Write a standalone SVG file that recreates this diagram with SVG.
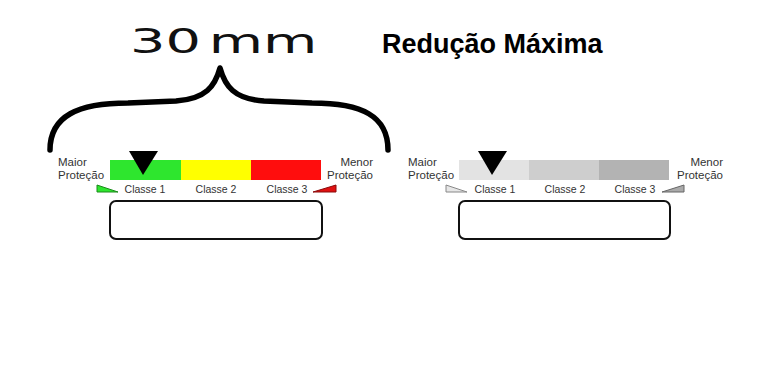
<svg xmlns="http://www.w3.org/2000/svg" width="780" height="386" viewBox="0 0 780 386">
<style>
.lbl{font-family:"Liberation Sans",Arial,sans-serif;font-size:11.5px;fill:#333}
.cls{font-family:"Liberation Sans",Arial,sans-serif;font-size:10.5px;fill:#333;text-anchor:middle}
.box{fill:#fff;stroke:#111;stroke-width:2}
.ptr{fill:#000}
</style>
<rect width="780" height="386" fill="#fff"/>
<g id="title-30mm">
<text x="0" y="0" transform="translate(130,53) scale(1.64,1)" font-family="DejaVu Sans,sans-serif" font-size="34" word-spacing="-6" fill="#111">30 mm</text>
</g>
<g id="title-reducao">
<text x="382" y="53" font-family="Liberation Sans,Arial,sans-serif" font-size="27" font-weight="bold" fill="#000">Redução Máxima</text>
</g>
<g id="brace">
<path d="M50,150 C50,116 78,103 128,103 L176,101 C206,99 215,86 220,68 C225,86 234,99 264,101 L312,103 C362,103 388,116 388,150" fill="none" stroke="#000" stroke-width="5.5" stroke-linecap="round" stroke-linejoin="round"/>
</g>
<g id="scale-color">
<rect x="110" y="160" width="71" height="20" fill="#2ee62e"/>
<rect x="181" y="160" width="70" height="20" fill="#ffff00"/>
<rect x="251" y="160" width="70" height="20" fill="#ff0d0d"/>
<polygon class="ptr" points="129,151 158,151 143,175"/>
<text class="lbl" x="58" y="166">Maior</text>
<text class="lbl" x="58" y="179">Proteção</text>
<text class="lbl" x="373" y="166" text-anchor="end">Menor</text>
<text class="lbl" x="373" y="179" text-anchor="end">Proteção</text>
<text class="cls" x="145" y="193">Classe 1</text>
<text class="cls" x="216" y="193">Classe 2</text>
<text class="cls" x="287" y="193">Classe 3</text>
<polygon points="97,185 97,192 118,192" fill="#2ee62e" stroke="#1a8a1a" stroke-width="1"/>
<polygon points="313,192 336,192 336,185" fill="#e01010" stroke="#8a0a0a" stroke-width="1"/>
<rect class="box" x="110" y="201" width="212" height="38" rx="6"/>
</g>
<g id="scale-gray">
<rect x="459" y="160" width="70" height="20" fill="#e3e3e3"/>
<rect x="529" y="160" width="70" height="20" fill="#cecece"/>
<rect x="599" y="160" width="70" height="20" fill="#b3b3b3"/>
<polygon class="ptr" points="478,151 507,151 492,175"/>
<text class="lbl" x="408" y="166">Maior</text>
<text class="lbl" x="408" y="179">Proteção</text>
<text class="lbl" x="723" y="166" text-anchor="end">Menor</text>
<text class="lbl" x="723" y="179" text-anchor="end">Proteção</text>
<text class="cls" x="495" y="193">Classe 1</text>
<text class="cls" x="565" y="193">Classe 2</text>
<text class="cls" x="635" y="193">Classe 3</text>
<polygon points="446,185 446,192 467,192" fill="#e6e6e6" stroke="#888" stroke-width="1"/>
<polygon points="662,192 684,192 684,185" fill="#aaa" stroke="#666" stroke-width="1"/>
<rect class="box" x="459" y="201" width="211" height="38" rx="6"/>
</g>
</svg>
